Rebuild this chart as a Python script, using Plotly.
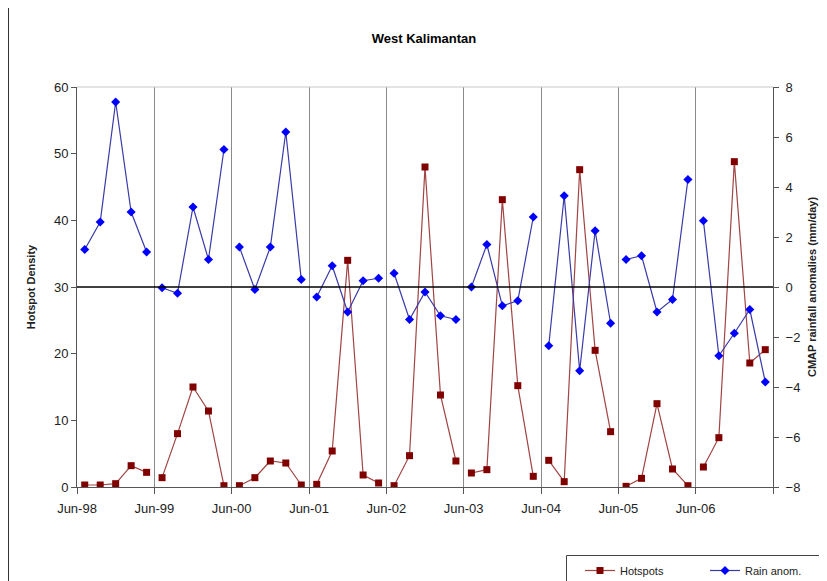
import plotly.graph_objects as go

# five readings per season, seasons starting in June
seasons = ["Jun-98", "Jun-99", "Jun-00", "Jun-01", "Jun-02",
           "Jun-03", "Jun-04", "Jun-05", "Jun-06"]
per_season = 5

hotspots = [
    0.3, 0.3, 0.5, 3.2, 2.2,
    1.4, 8.0, 15.0, 11.4, 0.2,
    0.2, 1.4, 3.9, 3.6, 0.3,
    0.4, 5.4, 34.0, 1.8, 0.6,
    0.2, 4.7, 48.0, 13.8, 3.9,
    2.1, 2.6, 43.1, 15.2, 1.6,
    4.0, 0.8, 47.6, 20.5, 8.3,
    0.1, 1.3, 12.5, 2.7, 0.2,
    3.0, 7.4, 48.8, 18.6, 20.6,
]
rain = [
    1.5, 2.6, 7.4, 3.0, 1.4,
    -0.03, -0.25, 3.2, 1.1, 5.5,
    1.6, -0.1, 1.6, 6.2, 0.3,
    -0.4, 0.85, -1.0, 0.25, 0.35,
    0.55, -1.3, -0.2, -1.15, -1.3,
    0.0, 1.7, -0.75, -0.55, 2.8,
    -2.35, 3.65, -3.35, 2.25, -1.45,
    1.1, 1.25, -1.0, -0.5, 4.3,
    2.65, -2.75, -1.85, -0.9, -3.8,
]


def split_seasons(values):
    """Spread values over each season slot and break the line between seasons."""
    xs, ys = [], []
    for s in range(len(seasons)):
        for k in range(per_season):
            xs.append(s + (k + 0.5) / per_season)
            ys.append(values[s * per_season + k])
        xs.append(None)
        ys.append(None)
    return xs, ys


font = "Liberation Sans, Arial, sans-serif"
fig = go.Figure()

hx, hy = split_seasons(hotspots)
fig.add_trace(
    go.Scatter(
        x=hx, y=hy, name="Hotspots", mode="lines+markers",
        line=dict(color="#a04444", width=1.2),
        marker=dict(symbol="square", size=7, color="#800000"),
        connectgaps=False,
    )
)

rx, ry = split_seasons(rain)
fig.add_trace(
    go.Scatter(
        x=rx, y=ry, name="Rain anom.", mode="lines+markers", yaxis="y2",
        line=dict(color="#3a3aa8", width=1.2),
        marker=dict(symbol="diamond", size=7, color="#0000ff"),
        connectgaps=False,
    )
)

# plot area in figure pixels (page has an 8px body margin)
L, T, W, H = 69, 79, 696, 400

# zero line of the rainfall anomalies
fig.add_shape(type="line", xref="paper", x0=0, x1=1, yref="y2", y0=0, y1=0,
              line=dict(color="black", width=1.6))
# top border of plot area
fig.add_shape(type="line", xref="paper", x0=0, x1=1, yref="paper", y0=1, y1=1,
              line=dict(color="#c8c8c8", width=1))
# left edge of the chart frame
fig.add_shape(type="line", xref="paper", x0=-(L - 0.5) / W, x1=-(L - 0.5) / W,
              yref="paper", y0=-0.3, y1=1.3,
              line=dict(color="#333333", width=1))
# legend box (runs off the bottom-right corner)
fig.add_shape(type="rect", xref="paper", yref="paper",
              x0=(558.5 - L) / W, x1=(840 - L) / W,
              y0=(T + H - 547.5) / H, y1=(T + H - 600) / H,
              line=dict(color="#444444", width=1), fillcolor="white", layer="below")

fig.update_layout(
    width=827, height=581,
    margin=dict(l=L, r=827 - L - W, t=T, b=581 - T - H, autoexpand=False),
    paper_bgcolor="white", plot_bgcolor="white",
    font=dict(family=font, color="#222222", size=13),
    title=dict(text="<b>West Kalimantan</b>", x=(416 - L) / W, xanchor="center",
               xref="paper", y=1 - 30 / 581, yanchor="middle",
               font=dict(size=13, color="black")),
    showlegend=True,
    legend=dict(
        orientation="h", x=(572 - L) / W, xanchor="left",
        y=(T + H - 548) / H, yanchor="top",
        borderwidth=0, bgcolor="rgba(0,0,0,0)",
        font=dict(size=11, color="#222222"), entrywidth=80,
        itemwidth=30,
    ),
    xaxis=dict(
        range=[0, len(seasons)],
        tickvals=list(range(len(seasons) + 1)),
        ticktext=seasons + [""],
        showgrid=True, gridcolor="#8a8a8a", gridwidth=1,
        showline=True, linecolor="#555555", linewidth=1,
        ticks="outside", ticklen=6, tickcolor="#555555",
        ticklabelstandoff=3,
        zeroline=False, tickfont=dict(size=13),
    ),
    yaxis=dict(
        range=[0, 60], dtick=10,
        showgrid=False, zeroline=False,
        showline=True, linecolor="#555555", linewidth=1,
        ticks="outside", ticklen=5, tickcolor="#555555",
        tickfont=dict(size=13),
        title=dict(text="<b>Hotspot Density</b>", font=dict(size=11), standoff=16),
    ),
    yaxis2=dict(
        range=[-8, 8], dtick=2, overlaying="y", side="right",
        showgrid=False, zeroline=False,
        showline=True, linecolor="#555555", linewidth=1,
        ticks="outside", ticklen=5, tickcolor="#555555",
        ticklabelstandoff=4,
        tickfont=dict(size=13),
        title=dict(text="<b>CMAP rainfall anomalies (mm/day)</b>",
                   font=dict(size=11), standoff=8),
    ),
)

fig.write_html("out.html")
